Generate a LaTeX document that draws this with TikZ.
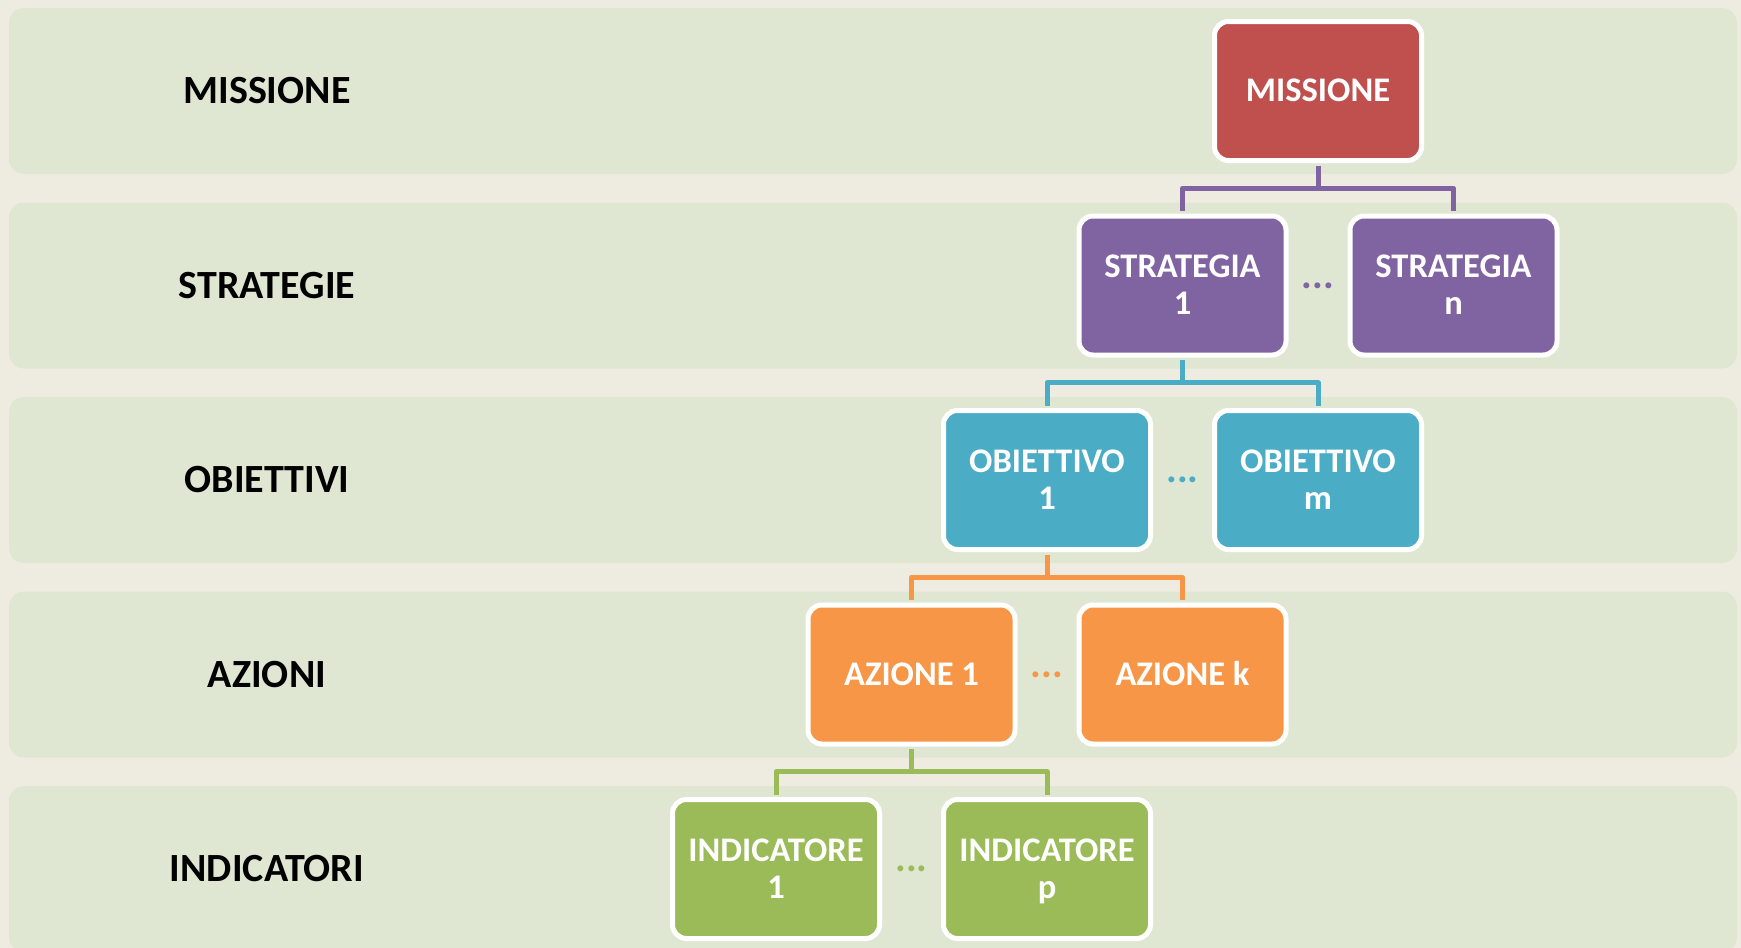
\documentclass[tikz,border=0pt]{standalone}
\usepackage{fontspec}
\setmainfont{Carlito}
\usetikzlibrary{calc}
\definecolor{bgc}{HTML}{EEECE1}
\definecolor{bandc}{HTML}{DFE7D2}
\definecolor{cred}{HTML}{C0504D}
\definecolor{cpurple}{HTML}{8064A2}
\definecolor{caqua}{HTML}{4BACC6}
\definecolor{corange}{HTML}{F79646}
\definecolor{cgreen}{HTML}{9BBB59}
\newcommand\bstrut{\rule[-8pt]{0pt}{37pt}}
\begin{document}
\begin{tikzpicture}[x=1pt,y=-1pt,
  box/.style={draw=white, line width=5pt, rounded corners=14pt,
    minimum width=207pt, minimum height=139pt, align=center, text=white,
    inner sep=0pt, font=\fontsize{34.5}{37}\selectfont\bfseries},
  lbl/.style={text=black, font=\fontsize{40}{46}\selectfont\bfseries},
  dotsn/.style={font=\fontsize{40}{44}\selectfont\bfseries, inner sep=0pt},
  conn/.style={line width=5pt, shorten <=2.5pt, shorten >=2.5pt}]
\useasboundingbox (0,0) rectangle (1741,948);
\fill[bgc] (0,0) rectangle (1741,948);
\begin{scope}
\clip (0,0) rectangle (1741,948);
\foreach \y in {8,202.5,397,591.5,786}
  \fill[bandc, rounded corners=15pt] (9,\y) rectangle (1737,\y+166);
\end{scope}
% left labels
\node[lbl] (l1) at (267,91) {MISSIONE};
\node[lbl] (l2) at (267,285.5) {STRATEGIE};
\node[lbl] (l3) at (267,480) {OBIETTIVI};
\node[lbl] (l4) at (267,674.5) {AZIONI};
\node[lbl] (l5) at (267,869) {INDICATORI};
% boxes
\node[box, fill=cred] (m) at (1318,91) {MISSIONE\bstrut};
\node[box, fill=cpurple] (s1) at (1182.5,285.5) {STRATEGIA\bstrut\\1\bstrut};
\node[box, fill=cpurple] (sn) at (1453.5,285.5) {STRATEGIA\bstrut\\n\bstrut};
\node[box, fill=caqua] (o1) at (1047,480) {OBIETTIVO\bstrut\\1\bstrut};
\node[box, fill=caqua] (om) at (1318,480) {OBIETTIVO\bstrut\\m\bstrut};
\node[box, fill=corange] (a1) at (911.5,674.5) {AZIONE 1\bstrut};
\node[box, fill=corange] (ak) at (1182.5,674.5) {AZIONE k\bstrut};
\node[box, fill=cgreen] (i1) at (776,869) {INDICATORE\bstrut\\1\bstrut};
\node[box, fill=cgreen] (ip) at (1047,869) {INDICATORE\bstrut\\p\bstrut};
% dots
\node[dotsn, text=cpurple] (d2) at ($(s1)!0.5!(sn)$) {...};
\node[dotsn, text=caqua] (d3) at ($(o1)!0.5!(om)$) {...};
\node[dotsn, text=corange] (d4) at ($(a1)!0.5!(ak)$) {...};
\node[dotsn, text=cgreen] (d5) at ($(i1)!0.5!(ip)$) {...};
% connectors
\coordinate (j2) at ($(m.south)!0.5!(m.south |- s1.north)$);
\draw[conn, cpurple, shorten >=0pt] (m.south) -- (j2);
\draw[conn, cpurple, line join=round] (s1.north) |- (j2) -| (sn.north);
\coordinate (j3) at ($(s1.south)!0.5!(s1.south |- o1.north)$);
\draw[conn, caqua, shorten >=0pt] (s1.south) -- (j3);
\draw[conn, caqua, line join=round] (o1.north) |- (j3) -| (om.north);
\coordinate (j4) at ($(o1.south)!0.5!(o1.south |- a1.north)$);
\draw[conn, corange, shorten >=0pt] (o1.south) -- (j4);
\draw[conn, corange, line join=round] (a1.north) |- (j4) -| (ak.north);
\coordinate (j5) at ($(a1.south)!0.5!(a1.south |- i1.north)$);
\draw[conn, cgreen, shorten >=0pt] (a1.south) -- (j5);
\draw[conn, cgreen, line join=round] (i1.north) |- (j5) -| (ip.north);
\end{tikzpicture}
\end{document}
